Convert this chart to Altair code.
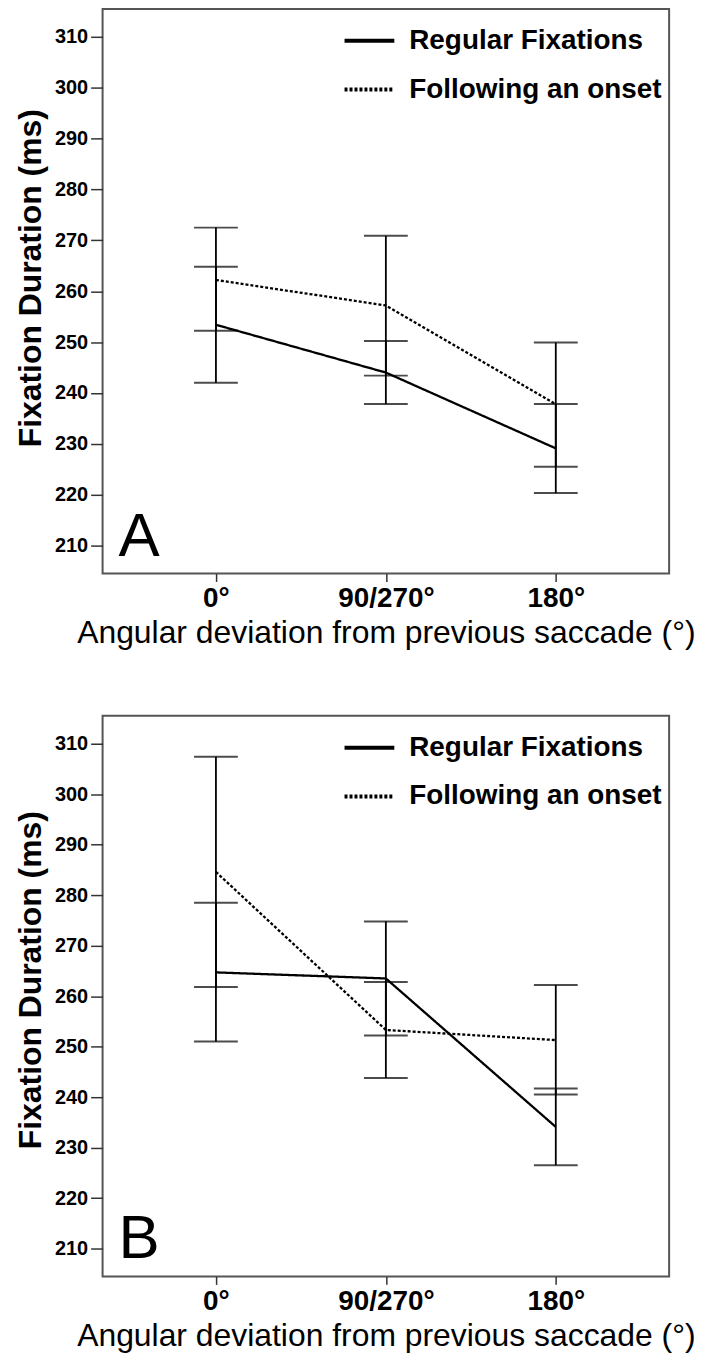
import altair as alt
import pandas as pd

FONT = "Liberation Sans"

categories = ["0°", "90/270°", "180°"]
series_names = ["Regular Fixations", "Following an onset"]
y_ticks = [210, 220, 230, 240, 250, 260, 270, 280, 290, 300, 310]

# Panel A
a_reg_mean = [253.4, 244.0, 229.1]
a_reg_low = [242.0, 237.8, 220.3]
a_reg_high = [264.8, 250.2, 237.8]
a_fol_mean = [262.2, 257.2, 237.8]
a_fol_low = [252.2, 243.4, 225.5]
a_fol_high = [272.5, 270.9, 249.9]

# Panel B
b_reg_mean = [264.7, 263.5, 234.1]
b_reg_low = [251.0, 252.2, 226.5]
b_reg_high = [278.5, 274.8, 241.7]
b_fol_mean = [284.6, 253.3, 251.3]
b_fol_low = [261.8, 243.8, 240.5]
b_fol_high = [307.4, 262.8, 262.2]


def make_df(reg_mean, reg_low, reg_high, fol_mean, fol_low, fol_high):
    rows = []
    for s, m, lo, hi in [
        (series_names[0], reg_mean, reg_low, reg_high),
        (series_names[1], fol_mean, fol_low, fol_high),
    ]:
        for i, c in enumerate(categories):
            rows.append({"angle": c, "idx": i, "series": s,
                         "mean": m[i], "low": lo[i], "high": hi[i]})
    return pd.DataFrame(rows)


def panel(df, letter, h, title_y, legend_y):
    x = alt.X("angle:N", sort=categories,
              scale=alt.Scale(type="point", padding=0.667),
              axis=alt.Axis(title="Angular deviation from previous saccade (°)",
                            labelAngle=0, labelFontSize=28, labelFontWeight="bold",
                            labelColor="black", labelFont=FONT, labelPadding=3,
                            tickSize=8, tickWidth=1.5, tickColor="#333",
                            domain=False, grid=False,
                            titleFontSize=32, titleFontWeight="normal",
                            titleFont=FONT, titleColor="black", titlePadding=5))
    yscale = alt.Scale(domain=[204.5, 315.5], nice=False, zero=False)
    y = alt.Y("mean:Q", scale=yscale,
              axis=alt.Axis(values=y_ticks, title="Fixation Duration (ms)",
                            labelFontSize=20, labelFontWeight="bold",
                            labelColor="black", labelFont=FONT, labelPadding=3,
                            tickSize=12, tickWidth=1.5, tickColor="#333",
                            domain=False, grid=False,
                            titleFontSize=32, titleFontWeight="bold",
                            titleFont=FONT, titleColor="black",
                            titleX=-62, titleY=title_y,
                            titleBaseline="alphabetic"))
    dash = alt.StrokeDash(
        "series:N",
        scale=alt.Scale(domain=series_names, range=[[1, 0], [3, 2]]),
        legend=alt.Legend(title=None, orient="none", legendX=241,
                          legendY=legend_y,
                          symbolType="stroke", symbolSize=2500,
                          symbolStrokeWidth=4, symbolStrokeColor="black",
                          labelFontSize=28, labelFontWeight="bold",
                          labelFont=FONT, labelColor="black",
                          labelOffset=13, rowPadding=8, padding=0,
                          labelLimit=400))
    base = alt.Chart(df)
    lines = base.mark_line(color="black", strokeWidth=2.3).encode(
        x=x, y=y, strokeDash=dash, order="idx:Q", detail="series:N")
    rules = base.mark_rule(color="black", strokeWidth=1.8).encode(
        x=alt.X("angle:N", sort=categories),
        y=alt.Y("low:Q", scale=yscale), y2="high:Q", detail="series:N")
    caps_lo = base.mark_tick(color="black", thickness=2, size=44,
                             orient="horizontal").encode(
        x=alt.X("angle:N", sort=categories), y=alt.Y("low:Q", scale=yscale))
    caps_hi = base.mark_tick(color="black", thickness=2, size=44,
                             orient="horizontal").encode(
        x=alt.X("angle:N", sort=categories), y=alt.Y("high:Q", scale=yscale))
    label = alt.Chart(pd.DataFrame({"t": [letter]})).mark_text(
        fontSize=62, font=FONT, align="left", baseline="alphabetic",
        color="black").encode(text="t:N", x=alt.value(16), y=alt.value(h - 18))
    return alt.layer(lines, rules, caps_lo, caps_hi, label).properties(
        width=569, height=h)


df_a = make_df(a_reg_mean, a_reg_low, a_reg_high, a_fol_mean, a_fol_low, a_fol_high)
df_b = make_df(b_reg_mean, b_reg_low, b_reg_high, b_fol_mean, b_fol_low, b_fol_high)

chart = alt.vconcat(
    panel(df_a, "A", 567, 270, 5),
    panel(df_b, "B", 563, 265, 5),
    spacing=66,
).resolve_scale(strokeDash="independent", x="independent", y="independent"
).resolve_legend(strokeDash="independent"
).configure(font=FONT, padding={"left": 6, "top": -3, "right": 0, "bottom": 0},
            view=alt.ViewConfig(stroke="#555555", strokeWidth=2))

chart.save("out.html", embed_options={"renderer": "svg", "actions": False})
